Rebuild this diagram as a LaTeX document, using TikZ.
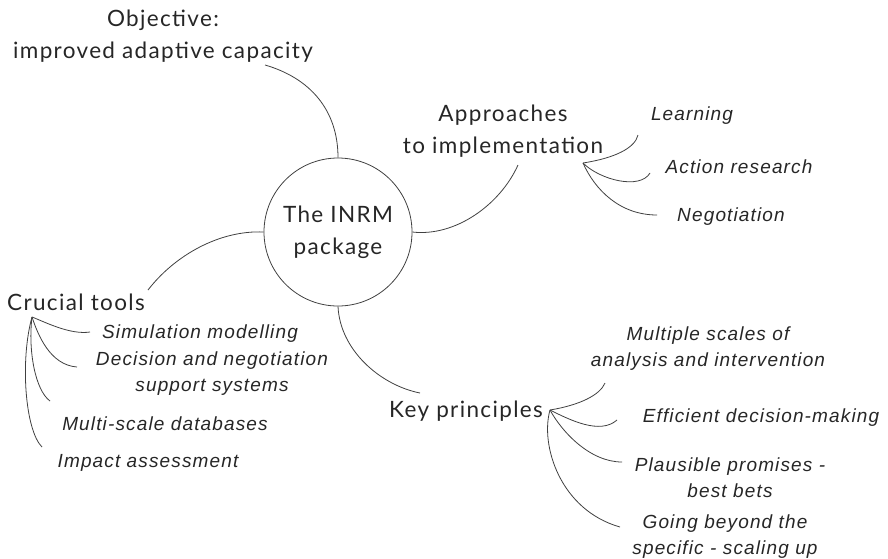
\documentclass[tikz,border=0pt]{standalone}
\usepackage{fontspec}
\usepackage{tikz}
\newfontfamily\hand{Lato}[LetterSpace=6]
\newfontfamily\leaf{Liberation Sans}[LetterSpace=6]

\begin{document}
\begin{tikzpicture}[x=1pt, y=-1pt,
    main/.style={font=\hand\fontsize{22.5}{32}\selectfont, align=center, inner sep=0pt, text=black!85},
    sub/.style={font=\leaf\itshape\fontsize{19}{26}\selectfont, align=center, inner sep=0pt, text=black!85},
    link/.style={draw=black!75, line width=0.8pt}]
    \useasboundingbox (0,0) rectangle (888,558);

    \node (pkg) [main, draw=black!75, line width=0.8pt, circle, minimum size=148pt] at (338,232) {The INRM\\package};
    \node (obj) [main] at (163,36) {Objective:\\improved adaptive capacity};
    \node (app) [main] at (503,131) {Approaches\\to implementation};
    \node (ct)  [main] at (76,302) {Crucial tools};
    \node (kp)  [main] at (466,411) {Key principles};

    \node (lrn) [sub] at (692,116) {Learning};
    \node (act) [sub] at (739,167) {Action research};
    \node (neg) [sub] at (731,217) {Negotiation};

    \node (sim) [sub] at (200,334) {Simulation modelling};
    \node (dec) [sub] at (212,374) {Decision and negotiation\\support systems};
    \node (mdb) [sub] at (165,424) {Multi-scale databases};
    \node (imp) [sub] at (148,463) {Impact assessment};

    \node (ms)  [sub] at (708,349) {Multiple scales of\\analysis and intervention};
    \node (edm) [sub] at (761,418) {Efficient decision-making};
    \node (pp)  [sub] at (730,478) {Plausible promises -\\best bets};
    \node (gb)  [sub] at (725,537) {Going beyond the\\specific - scaling up};

    % hubs
    \coordinate (objend) at (265,65);
    \coordinate (append) at (518,165);
    \coordinate (ctend) at (148,290);
    \coordinate (kpend) at (420,393);
    \coordinate (ah) at (583,163);
    \coordinate (ch) at (32,317);
    \coordinate (kh) at (550,410);

    \draw[link] (objend) .. controls (310,78) and (338,110) .. (pkg.north);
    \draw[link] (append) .. controls (500,205) and (455,237) .. (pkg.east);
    \draw[link] (ctend) .. controls (175,255) and (220,230) .. (pkg.west);
    \draw[link] (pkg.south) .. controls (340,350) and (380,385) .. (kpend);

    \draw[link] (ah) .. controls (615,158) and (635,148) .. (638,135) coordinate (lrnend);
    \draw[link] (ah) .. controls (600,180) and (640,190) .. (650,173) coordinate (actend);
    \draw[link] (ah) .. controls (595,190) and (620,215) .. (657,215) coordinate (negend);

    \draw[link] (ch) .. controls (45,322) and (70,335) .. (90,332) coordinate (simend);
    \draw[link] (ch) .. controls (38,335) and (50,365) .. (77,367) coordinate (decend);
    \draw[link] (ch) .. controls (28,350) and (35,390) .. (50,401) coordinate (mdbend);
    \draw[link] (ch) .. controls (20,360) and (25,430) .. (42,447) coordinate (impend);

    \draw[link] (kh) .. controls (580,405) and (600,395) .. (605,383) coordinate (msend);
    \draw[link] (kh) .. controls (570,420) and (600,435) .. (617,420) coordinate (edmend);
    \draw[link] (kh) .. controls (562,432) and (590,462) .. (622,462) coordinate (ppend);
    \draw[link] (kh) .. controls (540,445) and (560,510) .. (620,527) coordinate (gbend);
\end{tikzpicture}
\end{document}
